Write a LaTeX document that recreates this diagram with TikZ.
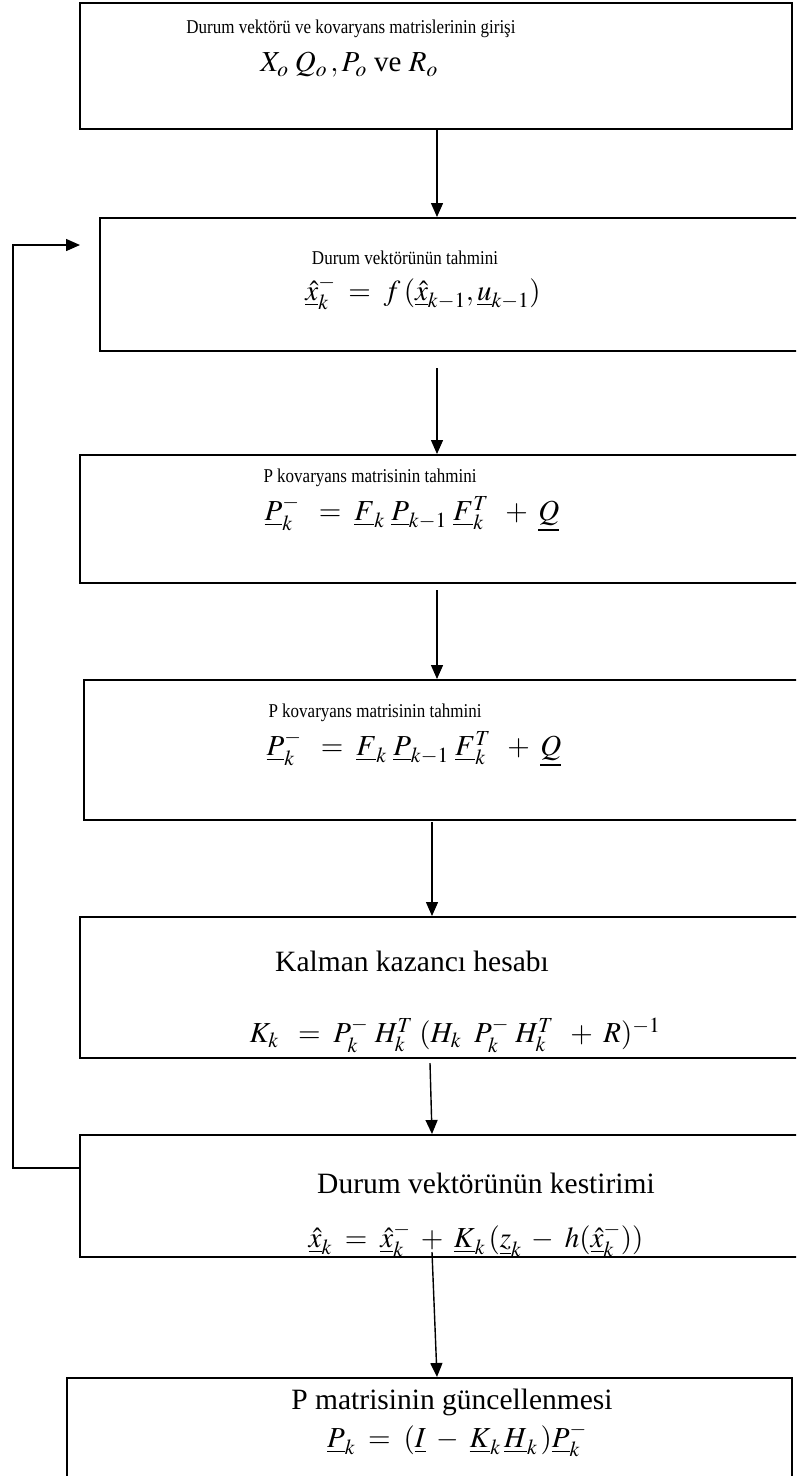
\documentclass[tikz,border=0pt]{standalone}
\usepackage{mathptmx}
\usepackage[no-math]{fontspec}
\setmainfont{Liberation Serif}
\usetikzlibrary{arrows.meta}
\newcommand{\vst}[1]{\scalebox{1}[1.15]{#1}}
\begin{document}
\begin{tikzpicture}[x=1pt,y=-1pt,
  box/.style={draw, line width=2pt, rectangle, inner sep=0pt},
  arr/.style={line width=1.4pt, -{Triangle[length=14pt,width=12pt]}},
  small/.style={inner sep=0pt, font=\fontsize{17}{20}\selectfont},
  big/.style={inner sep=0pt, font=\fontsize{29.5}{34}\selectfont},
  eq/.style={inner sep=0pt, font=\fontsize{29}{33}\selectfont}]
\useasboundingbox (0,0) rectangle (796,1476);
\clip (0,0) rectangle (796,1476);
% boxes
\node[box, minimum width=712pt, minimum height=126pt] (b1) at (436,66) {};
\node[box, minimum width=706pt, minimum height=133pt] (b2) at (453,284.5) {};
\node[box, minimum width=726pt, minimum height=128pt] (b3) at (443,519) {};
\node[box, minimum width=722pt, minimum height=140pt] (b4) at (445,750) {};
\node[box, minimum width=726pt, minimum height=141pt] (b5) at (443,987.5) {};
\node[box, minimum width=726pt, minimum height=122pt] (b6) at (443,1196) {};
\node[box, minimum width=725pt, minimum height=130pt] (b7) at (429.5,1443) {};
% texts
\node[small] (t1) at (351,29) {\vst{Durum vektörü ve kovaryans matrislerinin girişi}};
\node[eq] (m1) at (349,65) {$X_{o}\;Q_{o}\,,P_{o}$ ve $R_{o}$};
\node[small] (t2) at (405,258) {\vst{Durum vektörünün tahmini}};
\node[eq] (m2) at (423,293) {$\underline{\hat{x}}_{k}^{-}\;=\;f\,(\underline{\hat{x}}_{k-1},\underline{u}_{k-1})$};
\node[small] (t3) at (370,478) {\vst{P kovaryans matrisinin tahmini}};
\node[eq] (m3) at (412,514) {$\underline{P}_{k}^{-}\;\;=\;\underline{F}_{k}\;\underline{P}_{k-1}\;\underline{F}_{k}^{T}\;\;+\;\underline{Q}$};
\node[small] (t4) at (375,713) {\vst{P kovaryans matrisinin tahmini}};
\node[eq] (m4) at (414,749) {$\underline{P}_{k}^{-}\;\;=\;\underline{F}_{k}\;\underline{P}_{k-1}\;\underline{F}_{k}^{T}\;\;+\;\underline{Q}$};
\node[big] (t5) at (412,961) {Kalman kazancı hesabı};
\node[eq] (m5) at (455,1035) {$K_{k}\;\;=\;P_{k}^{-}\;H_{k}^{T}\;(H_{k}\;\;P_{k}^{-}\;H_{k}^{T}\;\;+\;R)^{-1}$};
\node[big] (t6) at (486,1183) {Durum vektörünün kestirimi};
\node[eq] (m6) at (476,1240) {$\underline{\hat{x}}_{k}\;=\;\underline{\hat{x}}_{k}^{-}\;+\;\underline{K}_{k}\,(\underline{z}_{k}\;-\;h(\underline{\hat{x}}_{k}^{-}))$};
\node[big] (t7) at (452,1402) {P matrisinin güncellenmesi};
\node[eq] (m7) at (457,1440) {$\underline{P}_{k}\;=\;(\underline{I}\;-\;\underline{K}_{k}\,\underline{H}_{k}\,)\underline{P}_{k}^{-}$};
% connector start points
\coordinate (s2) at (437,368);
\coordinate (s3) at (437,590);
\coordinate (s4) at (432,822);
\coordinate (s5) at (430,1063);
\coordinate (e5) at (432,0);
\coordinate (s6) at (432,1252);
\coordinate (e6) at (437,0);
\coordinate (fx) at (13,0);
\coordinate (fe) at (80,245);
% connectors
\draw[arr] (b1.south -| s2) -- (s2 |- b2.north);
\draw[arr] (s2) -- (s2 |- b3.north);
\draw[arr] (s3) -- (s3 |- b4.north);
\draw[arr] (s4) -- (s4 |- b5.north);
\draw[arr] (s5) -- (e5 |- b6.north);
\draw[arr] (s6) -- (e6 |- b7.north);
\draw[arr] ([yshift=-34pt]b6.north west) -| (fx |- fe) -- (fe);
\end{tikzpicture}
\end{document}
